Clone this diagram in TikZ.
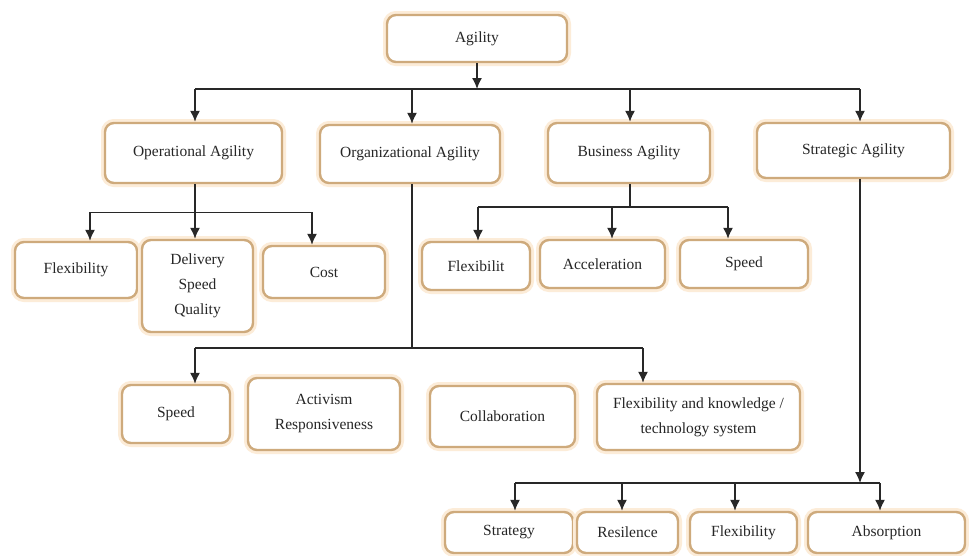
\documentclass[tikz,border=0pt]{standalone}
\usepackage{fontspec}
\setmainfont{Liberation Serif}
\usetikzlibrary{arrows.meta,calc}
\definecolor{boxtan}{RGB}{206,170,124}
\definecolor{boxglow}{RGB}{252,236,216}
\definecolor{linegray}{RGB}{40,40,40}
\tikzset{
  agbox/.style={draw=boxtan, line width=2.4pt, rounded corners=9pt, fill=white,
    align=center, text=black!85, font=\fontsize{15.5}{25}\selectfont, inner sep=0pt,
    preaction={draw=boxglow, line width=8pt}},
  link/.style={draw=linegray, line width=1.5pt},
  arr/.style={link, -{Latex[length=11pt,width=10pt]}}
}
\begin{document}
\begin{tikzpicture}[x=1pt,y=-1pt]
\fill[white] (0,0) rectangle (969,555);
\useasboundingbox (0,0) rectangle (969,555);
% top level
\node[agbox, minimum width=180, minimum height=47] (agility) at (477,38.5) {Agility};
\node[agbox, minimum width=177, minimum height=60] (oper) at (193.5,153) {Operational Agility};
\node[agbox, minimum width=180, minimum height=58] (orga) at (410,154) {Organizational Agility};
\node[agbox, minimum width=162, minimum height=60] (busi) at (629,153) {Business Agility};
\node[agbox, minimum width=193, minimum height=55] (strat) at (853.5,150.5) {Strategic Agility};
% operational agility
\node[agbox, minimum width=122, minimum height=56] (operflex) at (76,270) {Flexibility};
\node[agbox, minimum width=111, minimum height=92] (operdel) at (197.5,286) {Delivery\\Speed\\Quality};
\node[agbox, minimum width=122, minimum height=52] (opercost) at (324,272) {Cost};
% business agility
\node[agbox, minimum width=108, minimum height=48] (busiflex) at (476,266) {Flexibilit};
\node[agbox, minimum width=125, minimum height=48] (busiacc) at (602.5,264) {Acceleration};
\node[agbox, minimum width=128, minimum height=48] (busispeed) at (744,264) {Speed};
% organizational agility
\node[agbox, minimum width=108, minimum height=58] (orgaspeed) at (176,414) {Speed};
\node[agbox, minimum width=152, minimum height=72] (orgaact) at (324,414) {Activism\\Responsiveness};
\node[agbox, minimum width=145, minimum height=61] (orgacoll) at (502.5,416.5) {Collaboration};
\node[agbox, minimum width=203, minimum height=66] (orgaflex) at (698.5,417) {Flexibility and knowledge /\\technology system};
% strategic agility
\node[agbox, minimum width=128, minimum height=41] (stratstr) at (509,532.5) {Strategy};
\node[agbox, minimum width=101, minimum height=41] (stratres) at (627.5,532.5) {Resilence};
\node[agbox, minimum width=107, minimum height=41] (stratflex) at (743.5,532.5) {Flexibility};
\node[agbox, minimum width=157, minimum height=41] (stratabs) at (886.5,532.5) {Absorption};

% buses
\coordinate (topbus) at (0,89);
\coordinate (operbus) at (0,212);
\coordinate (busibus) at (0,207);
\coordinate (orgabus) at (0,348);
\coordinate (stratbus) at (0,483);

% agility to the four kinds
\draw[arr] (agility.south) -- (agility.south |- topbus);
\draw[link] ([xshift=1.5]oper.north |- topbus) -- ([xshift=6.5]strat.north |- topbus);
\draw[arr] ([xshift=1.5]oper.north |- topbus) -- ([xshift=1.5]oper.north);
\draw[arr] ([xshift=2]orga.north |- topbus) -- ([xshift=2]orga.north);
\draw[arr] ([xshift=1]busi.north |- topbus) -- ([xshift=1]busi.north);
\draw[arr] ([xshift=6.5]strat.north |- topbus) -- ([xshift=6.5]strat.north);

% operational
\draw[arr] ([xshift=1.5]oper.south) -- ([xshift=-2.5]operdel.north);
\draw[link, line width=1pt] ([xshift=14]operflex.north |- operbus) -- ([xshift=-12]opercost.north |- operbus);
\draw[arr] ([xshift=14]operflex.north |- operbus) -- ([xshift=14]operflex.north);
\draw[arr] ([xshift=-12]opercost.north |- operbus) -- ([xshift=-12]opercost.north);

% business
\draw[link] ([xshift=1]busi.south) -- ([xshift=1]busi.south |- busibus);
\draw[link] ([xshift=2]busiflex.north |- busibus) -- ([xshift=-16]busispeed.north |- busibus);
\draw[arr] ([xshift=2]busiflex.north |- busibus) -- ([xshift=2]busiflex.north);
\draw[arr] ([xshift=9.5]busiacc.north |- busibus) -- ([xshift=9.5]busiacc.north);
\draw[arr] ([xshift=-16]busispeed.north |- busibus) -- ([xshift=-16]busispeed.north);

% organizational
\draw[link] ([xshift=2]orga.south) -- ([xshift=2]orga.south |- orgabus);
\draw[link] ([xshift=19]orgaspeed.north |- orgabus) -- ([xshift=-55.5]orgaflex.north |- orgabus);
\draw[arr] ([xshift=19]orgaspeed.north |- orgabus) -- ([xshift=19]orgaspeed.north);
\draw[arr] ([xshift=-55.5]orgaflex.north |- orgabus) -- ([xshift=-55.5]orgaflex.north);

% strategic
\draw[arr] ([xshift=6.5]strat.south) -- ([xshift=6.5]strat.south |- stratbus);
\draw[link] ([xshift=6]stratstr.north |- stratbus) -- ([xshift=-6.5]stratabs.north |- stratbus);
\draw[arr] ([xshift=6]stratstr.north |- stratbus) -- ([xshift=6]stratstr.north);
\draw[arr] ([xshift=-5.5]stratres.north |- stratbus) -- ([xshift=-5.5]stratres.north);
\draw[arr] ([xshift=-8.5]stratflex.north |- stratbus) -- ([xshift=-8.5]stratflex.north);
\draw[arr] ([xshift=-6.5]stratabs.north |- stratbus) -- ([xshift=-6.5]stratabs.north);
\end{tikzpicture}
\end{document}
